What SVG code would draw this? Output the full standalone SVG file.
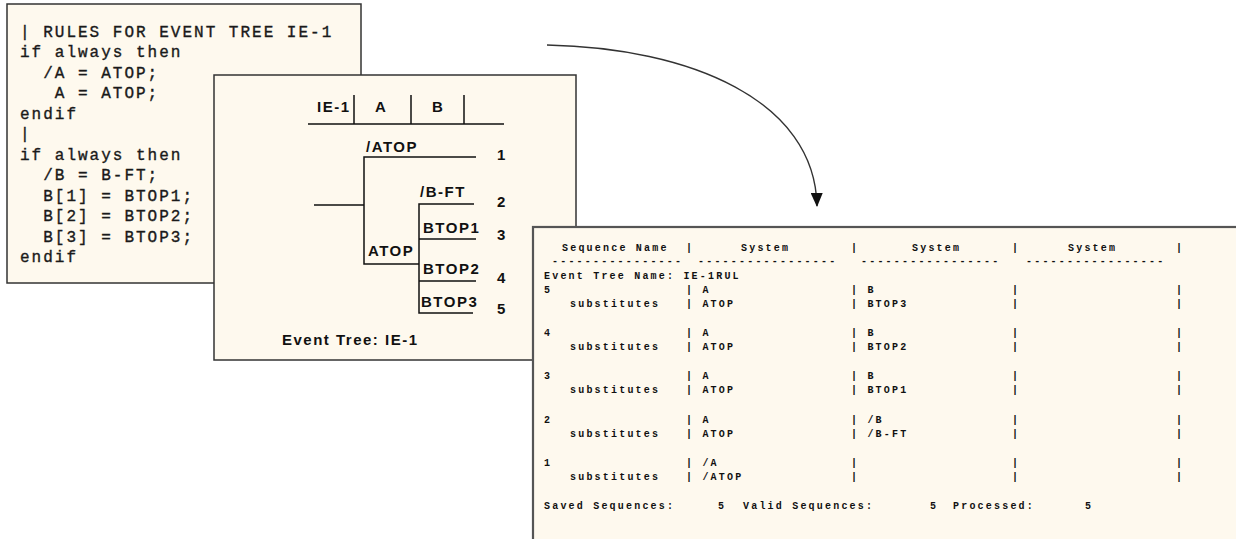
<svg xmlns="http://www.w3.org/2000/svg" width="1236" height="539" viewBox="0 0 1236 539">
<defs>
<style>
.panel{fill:#FEF9EE;stroke:#333;stroke-width:1.5}
.panel3{fill:#FEF9EE;stroke:#555;stroke-width:2.2}
.code{font-family:"Liberation Mono",monospace;font-size:16px;letter-spacing:2px;fill:#1a1a1a;stroke:#1a1a1a;stroke-width:0.35}
.tree{font-family:"Liberation Sans",Arial,sans-serif;font-weight:bold;font-size:15px;letter-spacing:1.5px;fill:#111}
.tl{fill:none;stroke:#111;stroke-width:1.5}
.rep{font-family:"Liberation Mono",monospace;font-weight:bold;font-size:10px;letter-spacing:2.2px;fill:#111}
.conn{fill:none;stroke:#333;stroke-width:1.4}
</style>
<marker id="arr" viewBox="0 0 14 12" refX="13" refY="6" markerWidth="14" markerHeight="12" markerUnits="userSpaceOnUse" orient="auto">
<path d="M0,0 L14,6 L0,12 Z" fill="#111"/>
</marker>
</defs>
<rect width="1236" height="539" fill="#fff"/>

<g id="panel-rules">
<rect class="panel" x="7" y="4" width="354" height="279"/>
<text class="code" x="20" y="36.5">| RULES FOR EVENT TREE IE-1</text>
<text class="code" x="20" y="57">if always then</text>
<text class="code" x="43.2" y="77.5">/A = ATOP;</text>
<text class="code" x="54.8" y="98">A = ATOP;</text>
<text class="code" x="20" y="118.5">endif</text>
<text class="code" x="20" y="139">|</text>
<text class="code" x="20" y="159.5">if always then</text>
<text class="code" x="43.2" y="180">/B = B-FT;</text>
<text class="code" x="43.2" y="200.5">B[1] = BTOP1;</text>
<text class="code" x="43.2" y="221">B[2] = BTOP2;</text>
<text class="code" x="43.2" y="241.5">B[3] = BTOP3;</text>
<text class="code" x="20" y="262">endif</text>
</g>

<g id="panel-tree">
<rect class="panel" x="214" y="75" width="362" height="285"/>
<text class="tree" x="317" y="112">IE-1</text>
<text class="tree" x="375" y="112">A</text>
<text class="tree" x="432" y="112">B</text>
<path class="tl" d="M354,95 V124 M411,95 V124 M464,95 V124 M308,124 H504"/>
<path class="tl" d="M476,157 H364 V264 H419 M314,205 H364"/>
<path class="tl" d="M474,204 H419 V313 H473 M419,239 H476 M419,281 H476"/>
<text class="tree" x="366" y="152">/ATOP</text>
<text class="tree" x="420" y="197">/B-FT</text>
<text class="tree" x="423" y="233">BTOP1</text>
<text class="tree" x="368" y="256">ATOP</text>
<text class="tree" x="423" y="274">BTOP2</text>
<text class="tree" x="421" y="307">BTOP3</text>
<text class="tree" x="497" y="160">1</text>
<text class="tree" x="497" y="207">2</text>
<text class="tree" x="497" y="240">3</text>
<text class="tree" x="497" y="283">4</text>
<text class="tree" x="497" y="314">5</text>
<text class="tree" x="282" y="345">Event Tree: IE-1</text>
</g>

<g id="panel-report">
<rect class="panel3" x="533" y="227" width="720" height="330"/>
<text class="rep" x="562" y="251">Sequence Name</text>
<text class="rep" x="686" y="251">|</text>
<text class="rep" x="741" y="251">System</text>
<text class="rep" x="851" y="251">|</text>
<text class="rep" x="912" y="251">System</text>
<text class="rep" x="1012" y="251">|</text>
<text class="rep" x="1068" y="251">System</text>
<text class="rep" x="1176" y="251">|</text>
<text class="rep" x="552" y="264">----------------</text>
<text class="rep" x="698" y="264">-----------------</text>
<text class="rep" x="861" y="264">-----------------</text>
<text class="rep" x="1026" y="264">-----------------</text>
<text class="rep" x="544" y="279">Event Tree Name: IE-1RUL</text>

<text class="rep" x="544" y="293">5</text>
<text class="rep" x="686" y="293">| A</text>
<text class="rep" x="851" y="293">| B</text>
<text class="rep" x="1012" y="293">|</text>
<text class="rep" x="1176" y="293">|</text>
<text class="rep" x="570" y="307">substitutes</text>
<text class="rep" x="686" y="307">| ATOP</text>
<text class="rep" x="851" y="307">| BTOP3</text>
<text class="rep" x="1012" y="307">|</text>
<text class="rep" x="1176" y="307">|</text>

<text class="rep" x="544" y="336">4</text>
<text class="rep" x="686" y="336">| A</text>
<text class="rep" x="851" y="336">| B</text>
<text class="rep" x="1012" y="336">|</text>
<text class="rep" x="1176" y="336">|</text>
<text class="rep" x="570" y="350">substitutes</text>
<text class="rep" x="686" y="350">| ATOP</text>
<text class="rep" x="851" y="350">| BTOP2</text>
<text class="rep" x="1012" y="350">|</text>
<text class="rep" x="1176" y="350">|</text>

<text class="rep" x="544" y="379">3</text>
<text class="rep" x="686" y="379">| A</text>
<text class="rep" x="851" y="379">| B</text>
<text class="rep" x="1012" y="379">|</text>
<text class="rep" x="1176" y="379">|</text>
<text class="rep" x="570" y="393">substitutes</text>
<text class="rep" x="686" y="393">| ATOP</text>
<text class="rep" x="851" y="393">| BTOP1</text>
<text class="rep" x="1012" y="393">|</text>
<text class="rep" x="1176" y="393">|</text>

<text class="rep" x="544" y="423">2</text>
<text class="rep" x="686" y="423">| A</text>
<text class="rep" x="851" y="423">| /B</text>
<text class="rep" x="1012" y="423">|</text>
<text class="rep" x="1176" y="423">|</text>
<text class="rep" x="570" y="437">substitutes</text>
<text class="rep" x="686" y="437">| ATOP</text>
<text class="rep" x="851" y="437">| /B-FT</text>
<text class="rep" x="1012" y="437">|</text>
<text class="rep" x="1176" y="437">|</text>

<text class="rep" x="544" y="466">1</text>
<text class="rep" x="686" y="466">| /A</text>
<text class="rep" x="851" y="466">|</text>
<text class="rep" x="1012" y="466">|</text>
<text class="rep" x="1176" y="466">|</text>
<text class="rep" x="570" y="480">substitutes</text>
<text class="rep" x="686" y="480">| /ATOP</text>
<text class="rep" x="851" y="480">|</text>
<text class="rep" x="1012" y="480">|</text>
<text class="rep" x="1176" y="480">|</text>

<text class="rep" x="544" y="509">Saved Sequences:</text>
<text class="rep" x="718" y="509">5</text>
<text class="rep" x="743" y="509">Valid Sequences:</text>
<text class="rep" x="930" y="509">5</text>
<text class="rep" x="953" y="509">Processed:</text>
<text class="rep" x="1085" y="509">5</text>
</g>

<g id="connectors">
<path class="conn" d="M547,45 C690,48 815,100 817,206" marker-end="url(#arr)"/>
</g>
</svg>
